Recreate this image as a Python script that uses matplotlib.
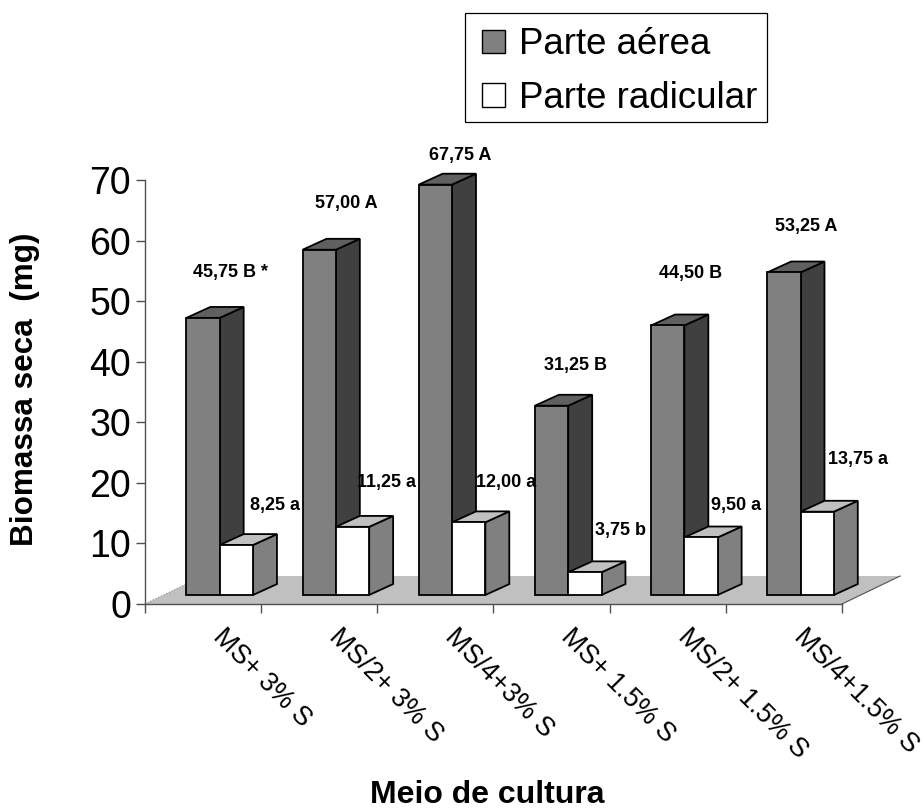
import matplotlib
matplotlib.use("Agg")
import matplotlib.pyplot as plt
from matplotlib.patches import Polygon, Patch, Rectangle

plt.rcParams['font.family'] = ['Liberation Sans', 'DejaVu Sans']

categories = ["MS+ 3% S", "MS/2+ 3% S", "MS/4+3% S", "MS+ 1.5% S", "MS/2+ 1.5% S", "MS/4+1.5% S"]
parte_aerea = [45.75, 57.00, 67.75, 31.25, 44.50, 53.25]
parte_radicular = [8.25, 11.25, 12.00, 3.75, 9.50, 13.75]
aerea_text = ["45,75 B *", "57,00 A", "67,75 A", "31,25 B", "44,50 B", "53,25 A"]
radicular_text = ["8,25 a", "11,25 a", "12,00 a", "3,75 b", "9,50 a", "13,75 a"]

# label anchors in data units
aerea_label_x = [0.24, 1.234, 2.21, 3.206, 4.195, 5.195]
aerea_label_y = [54.7, 66.2, 74.1, 39.3, 54.6, 62.4]
radicular_label_x = [0.617, 1.58, 2.61, 3.59, 4.59, 5.635]
radicular_label_y = [16.2, 20.0, 20.0, 12.2, 16.2, 23.8]

W, H = 924, 811
LEFT, RIGHT, TOP, BOTTOM = 145, 842, 180, 604

# pseudo-3D geometry, in data units
BAR_W = 0.2866
DEPTH_X = 0.206
DEPTH_Y = 1.8
FLOOR_LIFT = 1.49
FLOOR_BACK_Y = 4.62
FLOOR_BACK_X = 0.5
LABEL_SHIFT = 0.198

EDGE_LW = 1.3
AXIS_GREY = "#505050"

fig = plt.figure(figsize=(W / 100, H / 100), dpi=100)
ax = fig.add_axes([LEFT / W, 1 - BOTTOM / H, (RIGHT - LEFT) / W, (BOTTOM - TOP) / H])
ax.set_xlim(-0.5, 5.5)
ax.set_ylim(0, 70)
ax.patch.set_alpha(0)


def poly(points, color, z, lw=EDGE_LW, edge="black"):
    ax.add_patch(Polygon(points, closed=True, facecolor=color, edgecolor=edge,
                         linewidth=lw, zorder=z, clip_on=False, joinstyle="miter"))


# floor plane
poly([(-0.5, 0), (5.5, 0), (5.5 + FLOOR_BACK_X, FLOOR_BACK_Y), (-0.5 + FLOOR_BACK_X, FLOOR_BACK_Y)],
     "#c0c0c0", 1, lw=0, edge="none")
ax.plot([-0.5, -0.5 + FLOOR_BACK_X], [0, FLOOR_BACK_Y], color="#808080", lw=0.8, ls=":", zorder=2, clip_on=False)
ax.plot([5.5, 5.5 + FLOOR_BACK_X], [0, FLOOR_BACK_Y], color=AXIS_GREY, lw=0.8, zorder=2, clip_on=False)


def draw_bar(center, value, front, side, top, z):
    x0 = center - BAR_W / 2
    x1 = center + BAR_W / 2
    y0 = FLOOR_LIFT
    y1 = FLOOR_LIFT + value
    poly([(x1, y0), (x1 + DEPTH_X, y0 + DEPTH_Y), (x1 + DEPTH_X, y1 + DEPTH_Y), (x1, y1)], side, z)
    poly([(x0, y1), (x1, y1), (x1 + DEPTH_X, y1 + DEPTH_Y), (x0 + DEPTH_X, y1 + DEPTH_Y)], top, z)
    ax.bar(center, value, width=BAR_W, bottom=y0, color=front, edgecolor="black",
           linewidth=EDGE_LW, zorder=z, clip_on=False)


for i, (a, r) in enumerate(zip(parte_aerea, parte_radicular)):
    draw_bar(i, a, "#808080", "#404040", "#606060", 3 + i * 2)
    draw_bar(i + BAR_W, r, "#ffffff", "#808080", "#c0c0c0", 4 + i * 2)

for x, y, s in zip(aerea_label_x, aerea_label_y, aerea_text):
    ax.text(x, y, s, ha="center", va="center", fontsize=13, fontweight="bold", zorder=30, clip_on=False)
for x, y, s in zip(radicular_label_x, radicular_label_y, radicular_text):
    ax.text(x, y, s, ha="center", va="center", fontsize=13, fontweight="bold", zorder=30, clip_on=False)

# axes furniture
for side in ("top", "right"):
    ax.spines[side].set_visible(False)
for side in ("left", "bottom"):
    ax.spines[side].set_color(AXIS_GREY)
    ax.spines[side].set_linewidth(1.0)
    ax.spines[side].set_zorder(20)

ax.set_yticks(range(0, 71, 10))
ax.tick_params(axis="y", labelsize=27, length=6.5, width=1.0, color=AXIS_GREY, pad=3.5)
ax.set_xticks([k - 0.5 for k in range(7)])
ax.set_xticklabels([])
ax.tick_params(axis="x", which="major", length=6.5, width=1.0, color=AXIS_GREY)
ax.set_xticks([k + LABEL_SHIFT for k in range(6)], minor=True)
ax.set_xticklabels(categories, minor=True, rotation=-45, ha="left", va="top",
                   rotation_mode="anchor", fontsize=19.3)
ax.tick_params(axis="x", which="minor", length=0, pad=14.5)

fig.text(487 / W, 1 - 795 / H, "Meio de cultura", ha="center", va="center",
         fontsize=23, fontweight="bold")
fig.text(25 / W, 1 - 389 / H, "Biomassa seca  (mg)", ha="center", va="center",
         rotation=90, fontsize=22.7, fontweight="bold")

# legend box with its entries placed inside
fig.add_artist(Rectangle((465 / W, 1 - 122 / H), 302 / W, 109 / H, transform=fig.transFigure,
                         facecolor="white", edgecolor="black", linewidth=0.9))
handles = [Patch(facecolor="#808080", edgecolor="black", linewidth=1.0, label="Parte aérea"),
           Patch(facecolor="#ffffff", edgecolor="black", linewidth=1.0, label="Parte radicular")]
fig.legend(handles=handles, loc="upper left", bbox_to_anchor=(482 / W, 1 - 27.5 / H),
           fontsize=26.4, frameon=False, handlelength=0.62, handleheight=0.62,
           handletextpad=0.4, labelspacing=0.5, borderpad=0, borderaxespad=0)

fig.savefig("out.png", dpi=100)
